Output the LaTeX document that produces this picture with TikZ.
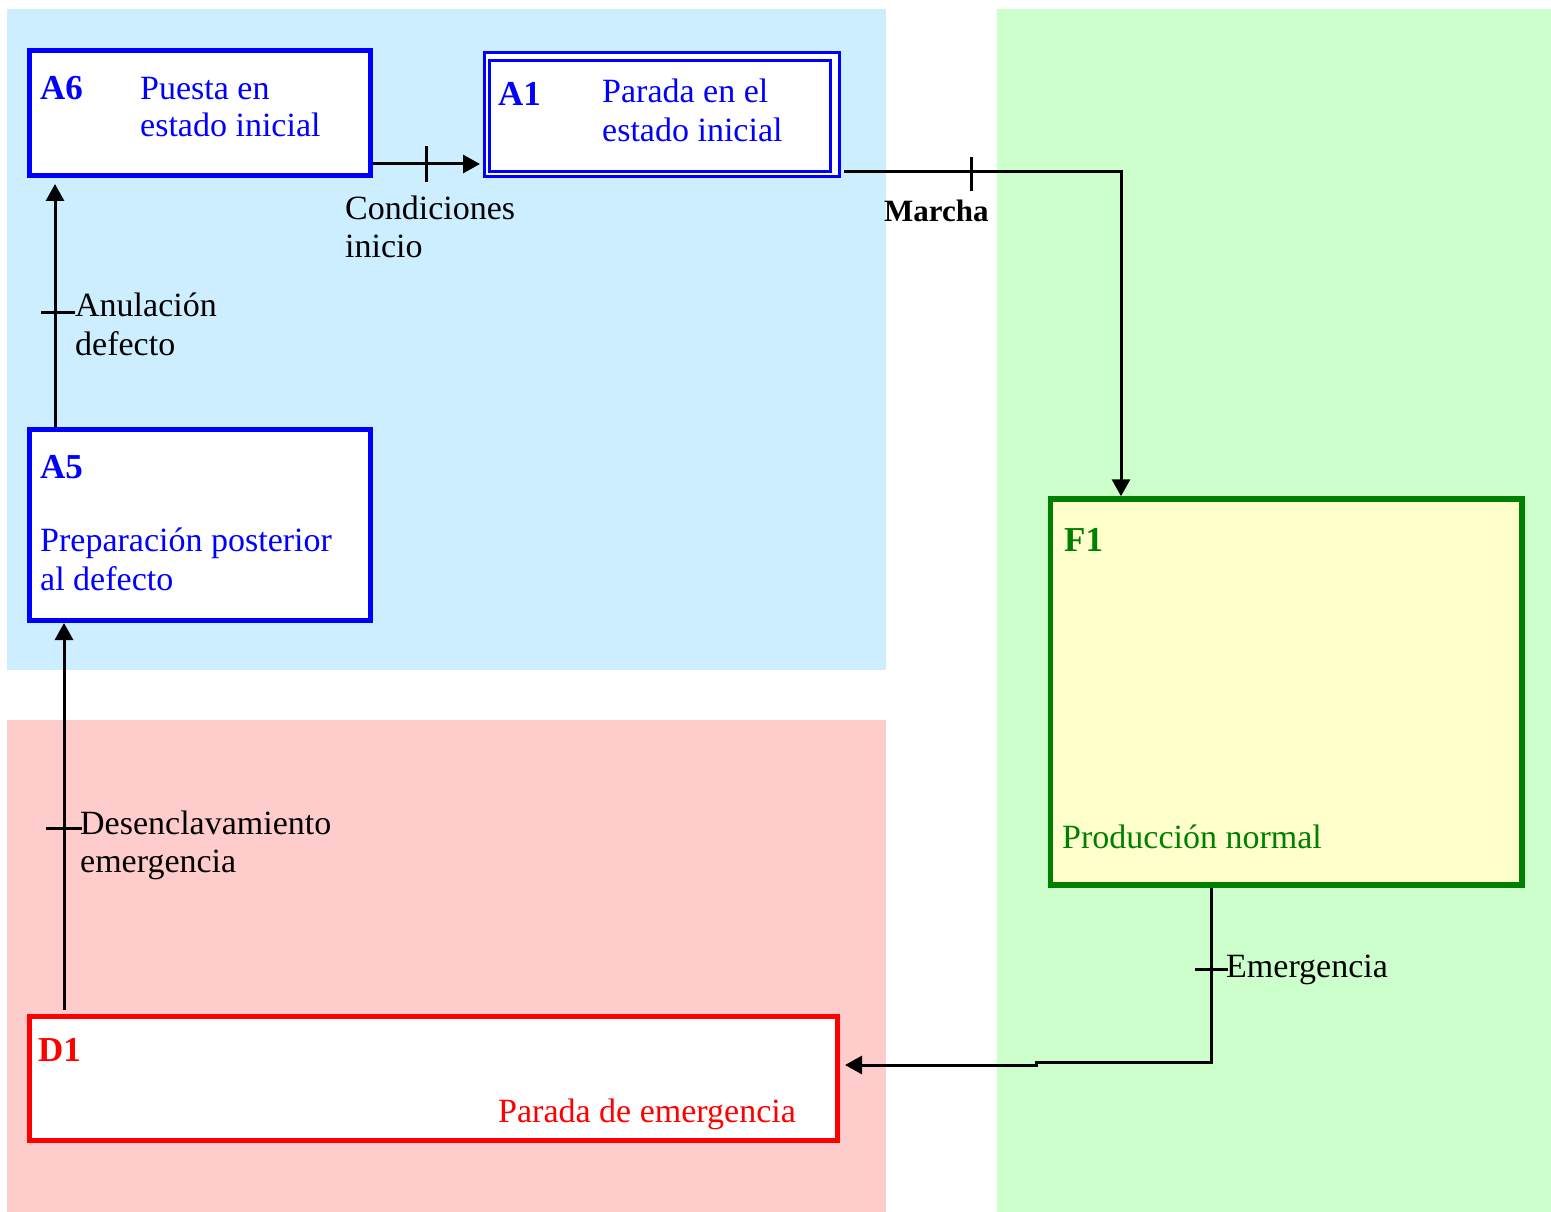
\documentclass[tikz,border=0pt]{standalone}
\usepackage{fontspec}
\setmainfont{Liberation Serif}
\usetikzlibrary{arrows.meta}
\definecolor{bgblue}{HTML}{CCEEFF}
\definecolor{bgpink}{HTML}{FFCCCC}
\definecolor{bggreen}{HTML}{CCFFCC}
\definecolor{fyellow}{HTML}{FFFFCC}
\definecolor{tblue}{HTML}{0000FF}
\definecolor{tred}{HTML}{FF0000}
\definecolor{tgreen}{HTML}{008000}
\begin{document}
\begin{tikzpicture}[x=1pt,y=-1pt,
  font=\fontsize{34}{39}\selectfont,
  box/.style={draw, fill=white, inner sep=0pt, anchor=north west, line width=5pt},
  txt/.style={anchor=base west, inner sep=0pt},
  idtxt/.style={anchor=base west, inner sep=0pt, font=\fontsize{35}{39}\selectfont\bfseries},
  conn/.style={line width=3pt, -{Triangle[length=17pt,width=18pt]}},
  tickmark/.style={line width=3pt},
]
\useasboundingbox (0,0) rectangle (1551,1212);
% background zones
\fill[bgblue] (7,9) rectangle (886,670);
\fill[bgpink] (7,720) rectangle (886,1212);
\fill[bggreen] (997,9) rectangle (1551,1212);

% boxes
\node[box, draw=tblue, minimum width=341pt, minimum height=125pt] (a6) at (27,48) {};
\node[box, draw=tblue, line width=3pt, minimum width=355pt, minimum height=124pt] (a1) at (483,51) {};
\draw[tblue, line width=3pt] ([shift={(6.5,10)}]a1.north west) rectangle ([shift={(-10.5,-6.5)}]a1.south east);
\node[box, draw=tblue, minimum width=341pt, minimum height=191pt] (a5) at (27,427) {};
\node[box, draw=tred, minimum width=808pt, minimum height=124pt] (d1) at (27,1014) {};
\node[box, draw=tgreen, fill=fyellow, line width=5.5pt, minimum width=471.5pt, minimum height=386pt] (f1) at (1047.75,496.25) {};

% box texts
\node[idtxt, text=tblue] (a6id) at (40,100) {A6};
\node[txt, text=tblue] (a6t1) at (140,100) {Puesta en};
\node[txt, text=tblue] (a6t2) at (140,137) {estado inicial};
\node[idtxt, text=tblue] (a1id) at (498,106) {A1};
\node[txt, text=tblue] (a1t1) at (602,103) {Parada en el};
\node[txt, text=tblue] (a1t2) at (602,142) {estado inicial};
\node[idtxt, text=tblue] (a5id) at (40,478) {A5};
\node[txt, text=tblue] (a5t1) at (40,551) {Preparación posterior};
\node[txt, text=tblue] (a5t2) at (40,590) {al defecto};
\node[idtxt, text=tred] (d1id) at (38,1061) {D1};
\node[txt, text=tred] (d1t) at (498,1122) {Parada de emergencia};
\node[idtxt, text=tgreen] (f1id) at (1064,551) {F1};
\node[txt, text=tgreen] (f1t) at (1062,848) {Producción normal};

% connector helper coordinates
\coordinate (ya) at (0,164);
\coordinate (yb) at (0,172);
\coordinate (xb) at (1121,0);
\coordinate (xc) at (1211,0);
\coordinate (jog1) at (1036,1062);
\coordinate (jog2) at (1036,1065);
\coordinate (xd) at (64,0);
\coordinate (xe) at (55,0);

% connectors
\draw[conn, shorten >=3pt] (a6.east |- ya) -- (a1.west |- ya);
\draw[conn, shorten <=3pt] (a1.east |- yb) -| (f1.north -| xb);
\draw[conn, shorten >=5pt] (f1.south -| xc) |- (jog1) -- (jog2) -- (d1.east |- jog2);
\draw[conn, shorten <=4pt] (d1.north -| xd) -- (a5.south -| xd);
\draw[conn, shorten >=6pt] (a5.north -| xe) -- (a6.south -| xe);

% transition ticks
\draw[tickmark] (426,146) -- (426,182);
\draw[tickmark] (971,157) -- (971,191);
\draw[tickmark] (1195,969) -- (1228,969);
\draw[tickmark] (46,828) -- (82,828);
\draw[tickmark] (41,312) -- (75,312);

% transition labels
\node[txt] (l1a) at (345,219) {Condiciones};
\node[txt] (l1b) at (345,257) {inicio};
\node[txt, font=\fontsize{31}{39}\selectfont\bfseries] (l2) at (884,222) {Marcha};
\node[txt] (l3) at (1226,977) {Emergencia};
\node[txt] (l4a) at (80,834) {Desenclavamiento};
\node[txt] (l4b) at (80,872) {emergencia};
\node[txt] (l5a) at (75,316) {Anulación};
\node[txt] (l5b) at (75,355) {defecto};
\end{tikzpicture}
\end{document}
